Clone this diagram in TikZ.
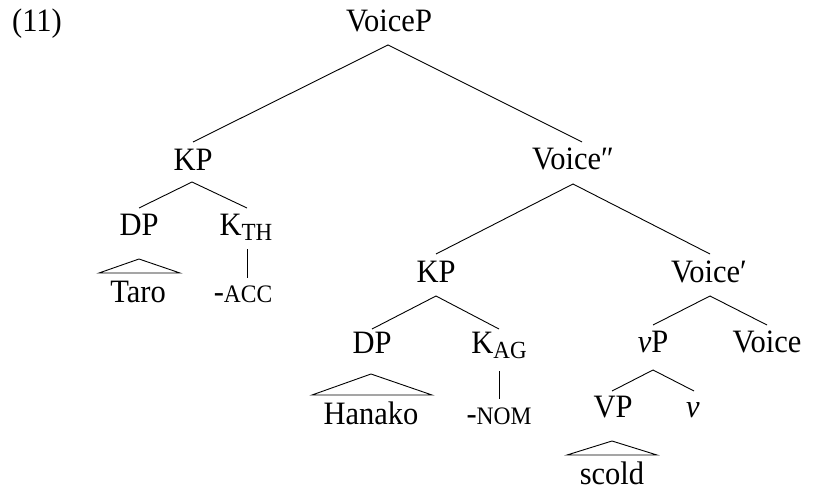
\documentclass[tikz,border=0pt]{standalone}
\usepackage{graphicx}
\usepackage{fontspec}
\setmainfont{Liberation Serif}
% slightly tall glyphs, subscripts and small capitals
\newcommand{\tl}[1]{\scalebox{1}[1.07]{#1}}
\newcommand{\subsz}[1]{\raisebox{-5pt}{\fontsize{23}{23}\selectfont #1}}
\newcommand{\smc}[1]{{\fontsize{23.5}{23.5}\selectfont #1}}
\begin{document}
\begin{tikzpicture}[x=1pt,y=-1pt,
  lbl/.style={anchor=base, inner sep=0pt, font=\fontsize{30.5}{36}\selectfont},
  branch/.style={line width=0.9pt, line join=miter}]
\useasboundingbox (0,0) rectangle (821,489);

% example number
\node[lbl, anchor=base west] (ex) at (12,32) {\tl{(11)}};

% labels of the tree
\node[lbl] (VoiceP) at (389,32) {\tl{VoiceP}};
\node[lbl] (KP1)    at (193,171) {\tl{KP}};
\node[lbl] (Vpp)    at (573,170) {\tl{Voice″}};
\node[lbl] (DP1)    at (139,235) {\tl{DP}};
\node[lbl] (KTH)    at (246,235) {\tl{K\subsz{TH}}};
\node[lbl] (Taro)   at (138,302) {\tl{Taro}};
\node[lbl] (ACC)    at (243,302) {\tl{-\smc{ACC}}};
\node[lbl] (KP2)    at (436,282) {\tl{KP}};
\node[lbl] (Vp)     at (709,282) {\tl{Voice′}};
\node[lbl] (DP2)    at (372,353) {\tl{DP}};
\node[lbl] (KAG)    at (499,353) {\tl{K\subsz{AG}}};
\node[lbl] (Hanako) at (371,424) {\tl{Hanako}};
\node[lbl] (NOM)    at (499,424) {\tl{-\smc{NOM}}};
\node[lbl] (vP)     at (653,352) {\tl{\textit{v}P}};
\node[lbl] (Voice)  at (767,352) {\tl{Voice}};
\node[lbl] (VP)     at (613,417) {\tl{VP}};
\node[lbl] (v)      at (693,417) {\tl{\textit{v}}};
\node[lbl] (scold)  at (612,484) {\tl{scold}};

% branches
\draw[branch] ([yshift=29pt]KP1.base) -- ([xshift=-1pt,yshift=-13pt]VoiceP.base)
              -- ([xshift=9pt,yshift=28pt]Vpp.base);
\draw[branch] ([yshift=27pt]DP1.base) -- ([xshift=-1pt,yshift=-11pt]KP1.base)
              -- ([xshift=1pt,yshift=27pt]KTH.base);
\draw[branch] ([xshift=1pt,yshift=-14pt]KTH.base) -- ([xshift=4pt,yshift=24pt]ACC.base);
\draw[branch] ([yshift=28pt]KP2.base) -- ([yshift=-14pt]Vpp.base)
              -- ([xshift=1pt,yshift=28pt]Vp.base);
\draw[branch] ([yshift=24pt]DP2.base) -- ([yshift=-14pt]KP2.base)
              -- ([yshift=24pt]KAG.base);
\draw[branch] ([yshift=-18pt]KAG.base) -- ([yshift=25pt]NOM.base);
\draw[branch] ([yshift=27pt]vP.base) -- ([xshift=1pt,yshift=-14pt]Vp.base)
              -- ([yshift=27pt]Voice.base);
\draw[branch] ([xshift=-1pt,yshift=26pt]VP.base) -- ([yshift=-18pt]vP.base)
              -- ([xshift=1pt,yshift=26pt]v.base);

% triangles over unanalysed constituents
\draw[branch] ([yshift=-24pt]DP1.base) -- ([xshift=-39pt,yshift=29pt]Taro.base)
              -- ([xshift=42pt,yshift=29pt]Taro.base) -- cycle;
\draw[branch] ([xshift=-1pt,yshift=-21pt]DP2.base) -- ([xshift=-59pt,yshift=29pt]Hanako.base)
              -- ([xshift=61pt,yshift=29pt]Hanako.base) -- cycle;
\draw[branch] ([xshift=-1pt,yshift=-24pt]VP.base) -- ([xshift=-45pt,yshift=29pt]scold.base)
              -- ([xshift=45pt,yshift=29pt]scold.base) -- cycle;
\end{tikzpicture}
\end{document}
